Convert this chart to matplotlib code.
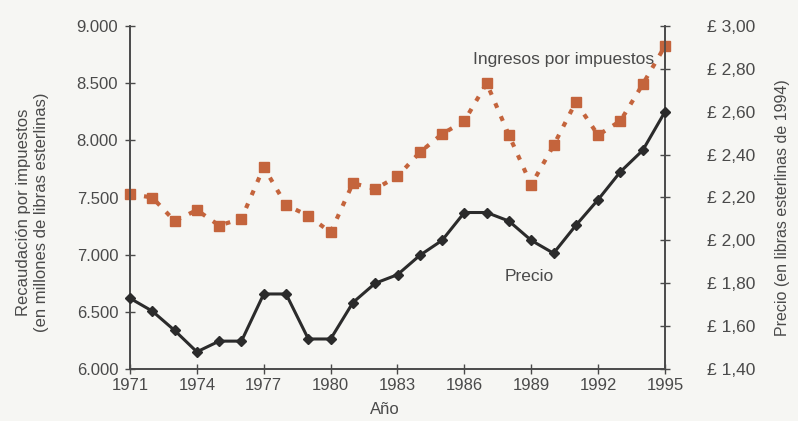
import matplotlib
matplotlib.use("Agg")
import matplotlib.pyplot as plt
from matplotlib.ticker import FuncFormatter, FixedLocator

plt.rcParams['font.family'] = ['Liberation Sans', 'DejaVu Sans']

# Series by year
years = list(range(1971, 1996))
revenue = [7530, 7500, 7295, 7390, 7255, 7315, 7765, 7435, 7340, 7195,
           7625, 7575, 7685, 7895, 8055, 8170, 8500, 8045, 7610, 7955,
           8335, 8045, 8170, 8490, 8825]
price = [1.73, 1.67, 1.58, 1.48, 1.53, 1.53, 1.75, 1.75, 1.54, 1.54,
         1.71, 1.80, 1.84, 1.93, 2.00, 2.13, 2.13, 2.09, 2.00, 1.94,
         2.07, 2.19, 2.32, 2.42, 2.60]

year_ticks = list(range(1971, 1996, 3))
revenue_ticks = [6000, 6500, 7000, 7500, 8000, 8500, 9000]
price_ticks = [1.40, 1.60, 1.80, 2.00, 2.20, 2.40, 2.60, 2.80, 3.00]

bg = '#f6f6f3'
ink = '#4a4a4a'
orange = '#c4643c'
dark = '#2b2b2b'

W, H = 798, 421
fig = plt.figure(figsize=(W / 100, H / 100), dpi=100, facecolor=bg)
ax = fig.add_axes([130 / W, 1 - 369 / H, 535 / W, 343 / H])
ax.set_facecolor(bg)
ax2 = ax.twinx()

ax.plot(years, revenue, color=orange, lw=3, linestyle=(0, (1.2, 2.2)),
        marker='s', ms=7, mfc=orange, mec=orange, clip_on=False, zorder=3)
ax2.plot(years, price, color=dark, lw=2.2, marker='D', ms=5.5,
         mfc=dark, mec=dark, clip_on=False, zorder=4)

ax.set_xlim(1971, 1995)
ax.set_ylim(6000, 9000)
ax2.set_ylim(1.40, 3.00)

ax.xaxis.set_major_locator(FixedLocator(year_ticks))
ax.yaxis.set_major_locator(FixedLocator(revenue_ticks))
ax2.yaxis.set_major_locator(FixedLocator(price_ticks))
ax.yaxis.set_major_formatter(FuncFormatter(lambda v, p: f"{v:,.0f}".replace(",", ".")))
ax2.yaxis.set_major_formatter(FuncFormatter(lambda v, p: f"£ {v:.2f}".replace(".", ",")))

for a in (ax, ax2):
    a.spines['top'].set_visible(False)
    for s in ('left', 'right', 'bottom'):
        a.spines[s].set_color(ink)
        a.spines[s].set_linewidth(1.2)

ax.tick_params(axis='both', direction='inout', length=7, width=1, color=ink,
               labelcolor=ink, labelsize=12)
ax.tick_params(axis='y', pad=5)
ax.tick_params(axis='x', pad=3)
ax2.tick_params(axis='y', direction='inout', length=7, width=1, color=ink,
                labelcolor=ink, labelsize=12.5, pad=27)

# axis titles placed in figure pixels
fig.text(33 / W, 1 - 212 / H,
         "Recaudación por impuestos\n(en millones de libras esterlinas)",
         color=ink, fontsize=12, linespacing=1.25, rotation=90,
         ha='center', va='center')
fig.text(783 / W, 1 - 208 / H, "Precio (en libras esterlinas de 1994)",
         color=ink, fontsize=11.5, rotation=90, ha='center', va='center')
fig.text(385 / W, 1 - 409 / H, "Año", color=ink, fontsize=12,
         ha='center', va='center')

ax.text(1994.5, 8710, "Ingresos por impuestos", color=ink, fontsize=12.5,
        ha='right', va='center')
ax.text(1988.9, 6810, "Precio", color=ink, fontsize=12.5, ha='center', va='center')

fig.savefig("out.png", dpi=100, facecolor=bg)
